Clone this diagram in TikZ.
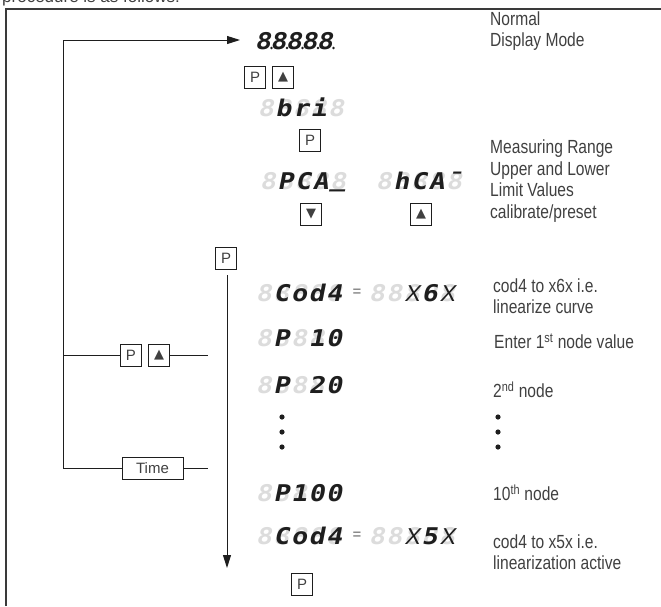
\documentclass[tikz,border=0pt]{standalone}
\usepackage{fontspec}
\setmainfont{Liberation Sans}
\newfontfamily\narrowfont{Liberation Sans}[FakeStretch=0.82]
\newfontfamily\lcdfont{DejaVu Sans Mono}[UprightFont={* Bold},FakeSlant=0.2,FakeStretch=1.15]
\newfontfamily\thinfont{Liberation Sans}[FakeSlant=0.2]
\newfontfamily\symfont{DejaVu Sans}
\usetikzlibrary{arrows.meta,positioning,calc}
\definecolor{ink}{HTML}{1E1E1E}
\definecolor{rule}{HTML}{3A3A3A}
\definecolor{segoff}{HTML}{DCDCDC}

\tikzset{
  key/.style={draw=ink,line width=0.8pt,minimum width=21pt,minimum height=22pt,inner sep=1pt,
    font=\fontsize{15}{15}\selectfont,text=ink!85},
  note/.style={anchor=west,align=left,inner sep=0pt,font=\narrowfont\fontsize{19}{21.5}\selectfont,text=ink!85},
  dim/.style={anchor=base,inner sep=0pt,font=\lcdfont\fontsize{23}{23}\selectfont,text=segoff},
  lit/.style={anchor=base,inner sep=0pt,font=\lcdfont\fontsize{23}{23}\selectfont,text=ink},
  flow/.style={draw=ink,line width=0.9pt},
  tip/.style={-{Triangle[length=13pt,width=8pt]}}
}

% one five-cell display: [pitch], name, left end of baseline, cells
\newcommand\lcd[4][17.6]{%
  \foreach \ch [count=\k] in {#4}{
    \node[dim] (#2-\k) at ($(#3)+(\k*#1-0.5*#1,0)$) {8};
    \node[lit] at (#2-\k.base) {\ch};
  }}
\newcommand\xx{{\thinfont\fontsize{23}{23}\selectfont X}}

\begin{document}
\begin{tikzpicture}[x=1pt,y=-1pt]
  \useasboundingbox (0,0) rectangle (661,606);
  \node[anchor=base west,inner sep=0pt,font=\fontsize{17}{17}\selectfont,text=ink!85] (head) at (2,2) {procedure is as follows:};
  \draw[rule,line width=1.3pt] (6,606) -- (6,9) -- (661,9);

  % displays
  \lcd[15.5]{disp}{255,49}{8,8,8,8,8}
  \foreach \k in {1,...,5} \fill[ink] ($(disp-\k.base east)+(0.6,-1)$) circle (1.4pt);
  \lcd{bri}{257,116}{{},b,r,i,{}}
  \lcd{pca}{259,189}{{},P,C,A,\raisebox{3pt}{\_}}
  \lcd{hca}{375,189}{{},h,C,A,¯}
  \lcd{cod}{255,301}{{},C,o,d,4}
  \node[font=\fontsize{15}{15}\selectfont,text=ink!70] (eqa) at (357,293) {=};
  \lcd{lin}{368,301}{{},{},\xx,6,\xx}
  \lcd{pa}{255,346}{{},P,{},1,0}
  \lcd{pb}{255,393}{{},P,{},2,0}
  \lcd{pc}{255,501}{{},P,1,0,0}
  \lcd{codb}{255,544}{{},C,o,d,4}
  \node[font=\fontsize{15}{15}\selectfont,text=ink!70] (eqb) at (357,536) {=};
  \lcd{linb}{368,544}{{},{},\xx,5,\xx}
  \foreach \y [count=\i] in {417,432,447} \fill[ink] (282,\y) circle (2.6pt) coordinate (mid-\i);

  % keys
  \node[key] (p1) at (255,77) {P};
  \node[key] (up1) at (283,77) {\symfont\fontsize{13}{13}\selectfont ▲};
  \node[key] (p2) at (310,140) {P};
  \node[key] (dn) at (311,214) {\symfont\fontsize{13}{13}\selectfont ▼};
  \node[key] (up2) at (421,214) {\symfont\fontsize{13}{13}\selectfont ▲};
  \node[key] (p3) at (226,258) {P};
  \node[key] (pl) at (131,355) {P};
  \node[key] (upl) at (159,355) {\symfont\fontsize{13}{13}\selectfont ▲};
  \node[key,minimum width=61pt] (time) at (152.5,468) {Time};
  \node[key] (p4) at (302,584) {P};

  % loop back to normal display
  \coordinate (top) at (63,40);
  \coordinate (bot) at (63,468);
  \coordinate (br) at (63,355);
  \coordinate (into) at (240,40);
  \coordinate (stubA) at (208,355);
  \coordinate (stubB) at (208,468);
  \draw[flow,tip] (time.west) -- (bot) -- (top) -- (into);
  \draw[flow] (br) -- (pl.west);
  \draw[flow] (upl.east) -- (stubA);
  \draw[flow] (time.east) -- (stubB);
  \coordinate (runA) at (227,275);
  \coordinate (runB) at (227,568);
  \draw[flow,tip] (runA) -- (runB);

  % notes
  \node[note] (n0) at (490,31) {Normal\\Display Mode};
  \node[note] (n1) at (490,181) {Measuring Range\\Upper and Lower\\Limit Values\\calibrate/preset};
  \node[note] (n2) at (493,296) {cod4 to x6x i.e.\\linearize curve};
  \node[note] (n3) at (494,341) {Enter 1\textsuperscript{st} node value};
  \node[note] (n4) at (493,390) {2\textsuperscript{nd} node};
  \foreach \y [count=\i] in {417,432,447} \fill[ink] (498,\y) circle (2.6pt) coordinate (side-\i);
  \node[note] (n5) at (493,493) {10\textsuperscript{th} node};
  \node[note] (n6) at (493,552) {cod4 to x5x i.e.\\linearization active};
\end{tikzpicture}
\end{document}
